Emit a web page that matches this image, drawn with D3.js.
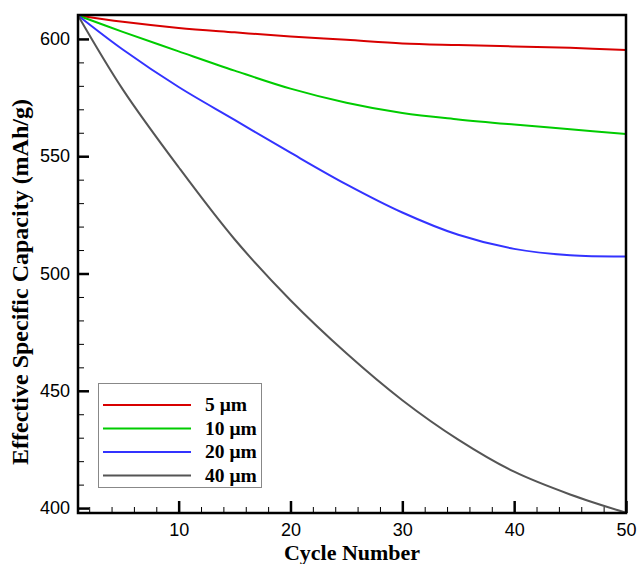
<!DOCTYPE html>
<html>
<head>
<meta charset="utf-8">
<script src="https://cdn.jsdelivr.net/npm/d3@7"></script>
<style>
    body { margin: 0; background: #fff; }
    .tick text { font-family: "Liberation Sans", Arial, sans-serif; font-size: 18px; fill: #000; }
    .lbl { font-family: "Liberation Serif", "Times New Roman", serif; font-weight: bold; }
</style>
</head>
<body>
<script>
// capacity vs cycle for four particle sizes
var cycles = [1, 5, 10, 15, 20, 25, 30, 35, 40, 45, 50];
var cap5 = [610, 607.3, 604.7, 602.8, 601.0, 599.6, 598.1, 597.4, 596.8, 596.2, 595.3];
var cap10 = [610, 603.0, 594.7, 586.5, 578.8, 572.8, 568.4, 565.7, 563.5, 561.5, 559.5];
var cap20 = [610, 595.5, 579.5, 565.5, 551.5, 538.0, 526.0, 516.5, 510.5, 507.8, 507.3];
var cap40 = [610, 578.5, 545.3, 514.6, 488.6, 466.0, 446.0, 429.2, 415.5, 405.8, 398.0];
var seriesNames = ['5 \u03bcm', '10 \u03bcm', '20 \u03bcm', '40 \u03bcm'];
var seriesColors = ['#d80000', '#00cc00', '#3333ff', '#555555'];
var xTicks = [10, 20, 30, 40, 50];
var yTicks = [400, 450, 500, 550, 600];

(function() {
    var W = 638, H = 564,
        PL = 78, PR = 626, PT = 15, PB = 513;

    var svg = d3.select('body').append('svg')
        .attr('width', W)
        .attr('height', H);

    var x = d3.scaleLinear().domain([1, 50]).range([PL, PR]);
    var y = d3.scaleLinear().domain([397.9, 610.2]).range([PB, PT]);

    // minor ticks first, majors on top
    var xMinor = d3.range(2, 50, 2).filter(d => d % 10 !== 0);
    var yMinor = d3.range(410, 610, 10).filter(d => d % 50 !== 0);

    svg.append('g')
        .attr('transform', `translate(0,${PB})`)
        .call(d3.axisBottom(x).tickValues(xMinor).tickSize(-6).tickFormat(''))
        .call(g => g.select('.domain').remove());

    svg.append('g')
        .attr('transform', `translate(${PL},0)`)
        .call(d3.axisLeft(y).tickValues(yMinor).tickSize(-6).tickFormat(''))
        .call(g => g.select('.domain').remove());

    var xAxis = svg.append('g')
        .attr('transform', `translate(0,${PB})`)
        .call(d3.axisBottom(x).tickValues(xTicks).tickSize(-12).tickPadding(5))
        .call(g => g.select('.domain').remove());
    xAxis.selectAll('.tick line').attr('stroke-width', 2.5);
    xAxis.selectAll('.tick text').attr('dy', '1em');

    var yAxis = svg.append('g')
        .attr('transform', `translate(${PL},0)`)
        .call(d3.axisLeft(y).tickValues(yTicks).tickSize(-11).tickPadding(8))
        .call(g => g.select('.domain').remove());
    yAxis.selectAll('.tick line').attr('stroke-width', 2.5);

    // curves
    var data = [cap5, cap10, cap20, cap40];
    var line = d3.line()
        .x((d, i) => x(cycles[i]))
        .y(d => y(d))
        .curve(d3.curveCatmullRom.alpha(0.5));

    svg.selectAll('path.curve')
        .data(data)
        .enter().append('path')
        .attr('class', 'curve')
        .attr('fill', 'none')
        .attr('stroke', (d, i) => seriesColors[i])
        .attr('stroke-width', 2)
        .attr('d', line);

    // frame
    svg.append('rect')
        .attr('x', PL)
        .attr('y', PT)
        .attr('width', PR - PL)
        .attr('height', PB - PT)
        .attr('fill', 'none')
        .attr('stroke', '#000')
        .attr('stroke-width', 2.5);

    // legend
    var legend = svg.append('g');
    legend.append('rect')
        .attr('x', 98.5)
        .attr('y', 383.5)
        .attr('width', 163)
        .attr('height', 104)
        .attr('fill', '#fff')
        .attr('stroke', '#888')
        .attr('stroke-width', 1);

    seriesNames.forEach((name, i) => {
        var ly = 405 + i * 23.5;
        legend.append('line')
            .attr('x1', 103).attr('x2', 191)
            .attr('y1', ly).attr('y2', ly)
            .attr('stroke', seriesColors[i])
            .attr('stroke-width', 2.2);
        legend.append('text')
            .attr('class', 'lbl')
            .attr('x', 205)
            .attr('y', ly + 6)
            .attr('font-size', 19.5)
            .text(name);
    });

    // axis titles
    svg.append('text')
        .attr('class', 'lbl')
        .attr('x', (PL + PR) / 2)
        .attr('y', 560)
        .attr('text-anchor', 'middle')
        .attr('font-size', 22)
        .text('Cycle Number');

    svg.append('text')
        .attr('class', 'lbl')
        .attr('transform', 'translate(28,282) rotate(-90)')
        .attr('text-anchor', 'middle')
        .attr('font-size', 24)
        .text('Effective Specific Capacity (mAh/g)');
})();
</script>
</body>
</html>
